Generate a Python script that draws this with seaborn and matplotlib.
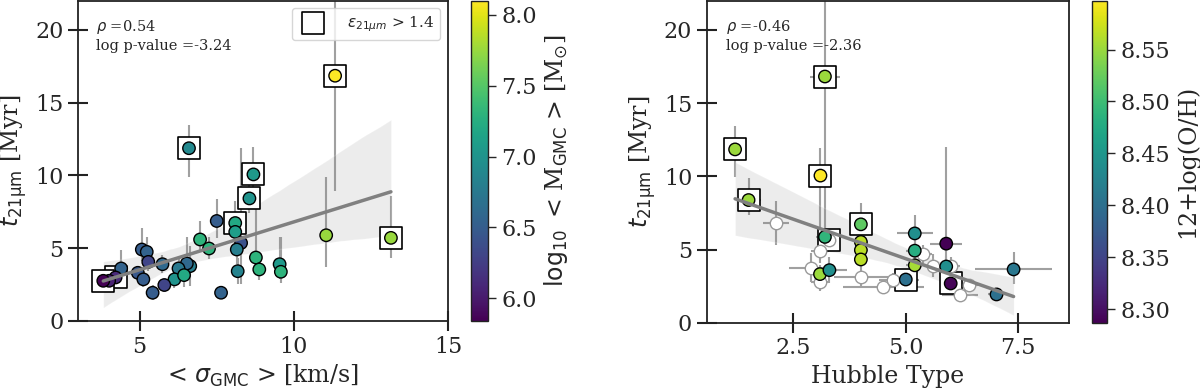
import matplotlib
matplotlib.use("Agg")
import matplotlib.pyplot as plt
import matplotlib.colors as mcolors
import numpy as np
import seaborn as sns

# ---- left panel: <sigma_GMC> vs t_21um, coloured by log10 <M_GMC>
sigma_gmc = [11.34, 6.60, 8.69, 8.56, 8.10, 8.10, 7.50, 8.29, 8.15, 8.18,
             8.77, 8.88, 9.54, 9.58, 11.05, 13.15, 6.96, 7.25, 7.64, 6.64,
             6.53, 6.26, 6.13, 6.44, 5.74, 5.80, 5.42, 5.07, 5.23, 5.28,
             4.94, 5.12, 4.40, 4.22, 4.01, 3.82]
t21_left = [16.85, 11.87, 10.07, 8.42, 6.73, 6.12, 6.87, 5.36, 4.91, 3.42,
            4.36, 3.54, 3.90, 3.38, 5.89, 5.71, 5.60, 4.98, 1.94, 3.77,
            3.95, 3.61, 2.86, 3.15, 3.90, 2.47, 1.94, 4.91, 4.75, 4.06,
            3.31, 2.86, 3.61, 2.99, 2.76, 2.76]
t21_left_lo = [7.9, 2.0, 1.5, 1.0, 1.0, 1.0, 1.2, 2.8, 1.0, 0.9,
               1.0, 0.7, 1.0, 0.8, 2.2, 1.4, 0.8, 0.7, 0.3, 1.4,
               1.0, 0.8, 0.6, 0.8, 0.6, 0.4, 0.5, 0.8, 0.7, 0.6,
               0.5, 0.5, 0.5, 0.3, 0.3, 0.3]
t21_left_hi = [6.0, 1.6, 1.9, 1.0, 1.5, 1.0, 1.5, 6.5, 1.2, 0.9,
               3.9, 0.9, 1.9, 2.4, 4.0, 2.9, 1.3, 0.8, 0.3, 1.4,
               1.8, 0.8, 0.6, 0.8, 0.6, 0.4, 0.5, 1.45, 1.0, 0.6,
               0.5, 0.5, 1.3, 0.3, 0.3, 0.3]
log_mgmc = [8.10, 6.90, 7.05, 7.00, 7.20, 7.10, 6.50, 6.40, 6.80, 6.85,
            7.30, 7.30, 7.05, 7.30, 7.75, 7.75, 7.30, 7.30, 6.55, 6.80,
            6.60, 6.75, 7.00, 7.20, 6.60, 6.30, 6.50, 6.50, 6.55, 6.30,
            6.45, 6.50, 6.55, 6.10, 6.05, 5.84]
high_eps_left = [1, 1, 1, 1, 1, 0, 0, 0, 0, 0,
                 0, 0, 0, 0, 0, 1, 0, 0, 0, 0,
                 0, 0, 0, 0, 0, 0, 0, 0, 0, 0,
                 0, 0, 0, 1, 0, 1]

# ---- right panel: Hubble type vs t_21um, coloured by 12+log(O/H)
htype = [3.20, 1.20, 3.10, 1.50, 4.00, 4.00, 4.00, 4.00, 3.20, 3.09,
         3.30, 5.20, 5.20, 5.20, 5.90, 5.90, 6.00, 5.00, 7.02, 7.40]
t21_right = [16.82, 11.84, 10.05, 8.38, 6.72, 5.52, 4.96, 4.32, 5.86, 3.32,
             3.59, 6.10, 4.92, 3.92, 5.40, 3.84, 2.68, 2.95, 1.93, 3.64]
htype_err = [0.33, 0.15, 0.2, 0.27, 0.2, 0.15, 0.15, 0.15, 0.2, 0.2,
             0.4, 0.4, 0.2, 0.2, 0.35, 0.2, 0.2, 0.3, 0.2, 0.85]
t21_right_lo = [10.5, 1.9, 4.8, 1.0, 1.0, 0.5, 0.5, 0.5, 0.8, 0.6,
                0.9, 1.2, 0.8, 0.7, 2.0, 0.7, 0.6, 0.6, 0.3, 1.0]
t21_right_hi = [8.0, 1.6, 1.9, 1.5, 1.45, 0.5, 0.5, 0.5, 0.8, 0.6,
                0.9, 1.25, 0.8, 0.7, 6.6, 0.7, 0.6, 0.6, 0.3, 1.2]
metallicity = [8.55, 8.55, 8.597, 8.55, 8.52, 8.565, 8.565, 8.565, 8.49, 8.55,
               8.44, 8.44, 8.48, 8.555, 8.287, 8.44, 8.29, 8.40, 8.40, 8.41]
high_eps_right = [1, 1, 1, 1, 1, 0, 0, 0, 0, 0,
                  0, 0, 0, 0, 0, 0, 1, 1, 0, 0]

# galaxies without metallicity (open symbols)
htype_nz = [2.11, 3.10, 2.90, 3.10, 3.30, 4.00, 4.50, 4.71, 5.39, 5.61, 6.00, 6.20, 6.41]
t21_nz = [6.82, 4.89, 3.76, 2.75, 5.68, 3.09, 2.46, 2.92, 4.70, 3.90, 3.90, 1.92, 2.55]
htype_nz_err = [0.28, 0.2, 0.5, 0.2, 0.2, 0.6, 0.9, 0.3, 0.2, 0.2, 0.2, 0.4, 0.2]
t21_nz_err = [1.5, 0.8, 1.0, 0.6, 0.6, 0.7, 0.4, 0.5, 0.6, 0.8, 0.6, 0.4, 0.4]
high_eps_nz = [0, 0, 0, 0, 1, 0, 0, 0, 0, 0, 0, 0, 0]

stats_left = r"$\rho$ =0.54" + "\nlog p-value =-3.24"
stats_right = r"$\rho$ =-0.46" + "\nlog p-value =-2.36"

sns.set_style("ticks")
plt.rcParams["font.family"] = "serif"
plt.rcParams["axes.linewidth"] = 1.3
plt.rcParams["axes.edgecolor"] = "#222222"

ERR_C = "#a0a0a0"
S_CIRC = 80
S_SQ = 240


def style_axes(ax):
    ax.tick_params(direction="inout", length=14, width=1.5, labelsize=16, color="#222222")
    ax.set_ylim(0, 22)
    ax.set_yticks([0, 5, 10, 15, 20])
    ax.set_ylabel(r"$t_{21\mathrm{\mu m}}$ [Myr]", fontsize=17)


def add_cbar(fig, rect, norm, label, ticks, fmt):
    cax = fig.add_axes(rect)
    sm = plt.cm.ScalarMappable(norm=norm, cmap="viridis")
    cb = fig.colorbar(sm, cax=cax, ticks=ticks, format=fmt)
    cb.outline.set_linewidth(1.0)
    cb.ax.tick_params(direction="out", length=6, width=1, labelsize=16)
    cb.set_label(label, fontsize=17)
    return cb


fig = plt.figure(figsize=(12, 3.9), dpi=100)

# ---------------- left
ax1 = fig.add_axes([0.065, 0.177, 0.3083, 0.821])
x = np.array(sigma_gmc)
y = np.array(t21_left)
sq = np.array(high_eps_left, dtype=bool)
norm1 = mcolors.Normalize(min(log_mgmc), max(log_mgmc))

ax1.errorbar(x, y, yerr=[t21_left_lo, t21_left_hi], fmt="none", ecolor=ERR_C,
             elinewidth=1.5, zorder=1)
sns.regplot(x=x, y=y, ax=ax1, scatter=False, color="gray", seed=3,
            line_kws={"lw": 2.5, "zorder": 6})
ax1.scatter(x[sq], y[sq], marker="s", s=S_SQ, facecolor="white", edgecolor="k",
            linewidth=1.2, zorder=3, label=r"$\varepsilon_{21\mu m}$ > 1.4")
sns.scatterplot(x=x, y=y, hue=log_mgmc, palette="viridis", hue_norm=norm1, s=S_CIRC,
                edgecolor="k", linewidth=1, legend=False, ax=ax1, zorder=4)
style_axes(ax1)
ax1.set_xlim(3, 15)
ax1.set_xticks([5, 10, 15])
ax1.set_xlabel(r"< $\sigma_{\rm GMC}$ > [km/s]", fontsize=17)
ax1.text(0.05, 0.945, stats_left, transform=ax1.transAxes, va="top", fontsize=10.5)
ax1.legend(loc="upper right", fontsize=11, handletextpad=1.2, borderpad=0.4,
           framealpha=0.8)
add_cbar(fig, [0.3925, 0.177, 0.0142, 0.821], norm1,
         r"$\log_{10}$ < M$_{\rm GMC}$ > [M$_{\odot}$]",
         [6.0, 6.5, 7.0, 7.5, 8.0], "%.1f")

# ---------------- right
ax2 = fig.add_axes([0.589, 0.1726, 0.3017, 0.8256])
xr = np.array(htype)
yr = np.array(t21_right)
sqr = np.array(high_eps_right, dtype=bool)
xn = np.array(htype_nz)
yn = np.array(t21_nz)
sqn = np.array(high_eps_nz, dtype=bool)
norm2 = mcolors.Normalize(min(metallicity), max(metallicity))

ax2.errorbar(xn, yn, xerr=htype_nz_err, yerr=t21_nz_err, fmt="none", ecolor=ERR_C,
             elinewidth=1.5, zorder=1)
ax2.errorbar(xr, yr, xerr=htype_err, yerr=[t21_right_lo, t21_right_hi], fmt="none",
             ecolor=ERR_C, elinewidth=1.5, zorder=1)
sns.regplot(x=np.concatenate([xr, xn]), y=np.concatenate([yr, yn]), ax=ax2,
            scatter=False, color="gray", seed=3, line_kws={"lw": 2.5, "zorder": 6})
ax2.scatter(np.concatenate([xr[sqr], xn[sqn]]), np.concatenate([yr[sqr], yn[sqn]]),
            marker="s", s=S_SQ, facecolor="white", edgecolor="k", linewidth=1.2, zorder=3)
ax2.scatter(xn, yn, s=S_CIRC, facecolor="white", edgecolor="#999999", linewidth=1,
            zorder=3.5)
sns.scatterplot(x=xr, y=yr, hue=metallicity, palette="viridis", hue_norm=norm2, s=S_CIRC,
                edgecolor="k", linewidth=1, legend=False, ax=ax2, zorder=4)
style_axes(ax2)
ax2.set_xlim(0.57, 8.63)
ax2.set_xticks([2.5, 5.0, 7.5])
ax2.set_xlabel("Hubble Type", fontsize=17)
ax2.text(0.052, 0.945, stats_right, transform=ax2.transAxes, va="top", fontsize=10.5)
add_cbar(fig, [0.91, 0.1726, 0.0125, 0.8256], norm2, "12+log(O/H)",
         [8.30, 8.35, 8.40, 8.45, 8.50, 8.55], "%.2f")

fig.savefig("out.png", dpi=100)
